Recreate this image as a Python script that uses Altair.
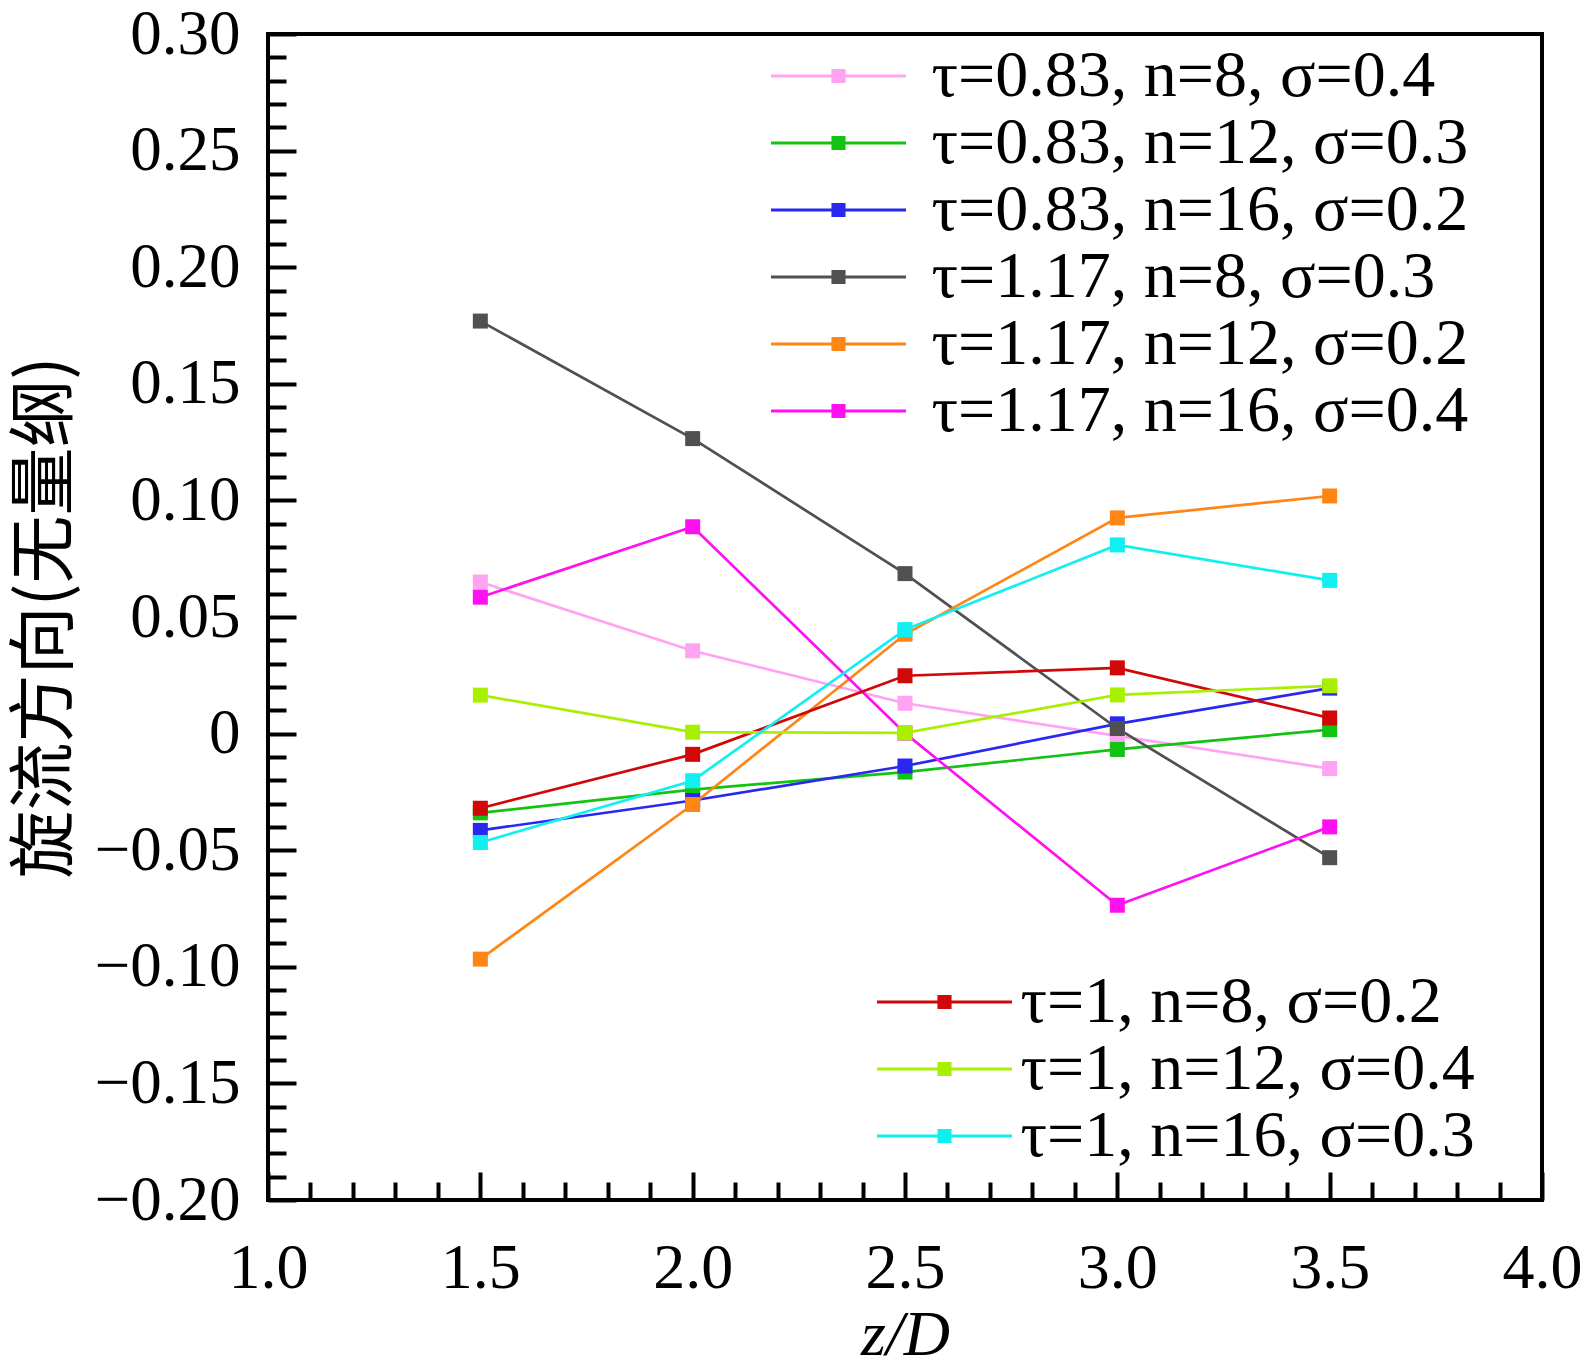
import altair as alt
import pandas as pd

# ---------------- data ----------------
z = [1.5, 2.0, 2.5, 3.0, 3.5]

labels_a = [
    "τ=0.83, n=8, σ=0.4",
    "τ=0.83, n=12, σ=0.3",
    "τ=0.83, n=16, σ=0.2",
    "τ=1.17, n=8, σ=0.3",
    "τ=1.17, n=12, σ=0.2",
    "τ=1.17, n=16, σ=0.4",
]
values_a = [
    [0.065, 0.0355, 0.013, -0.001, -0.015],
    [-0.034, -0.024, -0.0165, -0.0068, 0.0017],
    [-0.0415, -0.0287, -0.0139, 0.0042, 0.0195],
    [0.1769, 0.1265, 0.0686, 0.0022, -0.0532],
    [-0.0967, -0.0304, 0.0426, 0.0925, 0.1019],
    [0.0585, 0.0887, 0.0002, -0.0736, -0.040],
]
colors_a = ["#FFA3F3", "#12C312", "#2828F0", "#505050", "#FF8514", "#FF10F0"]

labels_b = [
    "τ=1, n=8, σ=0.2",
    "τ=1, n=12, σ=0.4",
    "τ=1, n=16, σ=0.3",
]
values_b = [
    [-0.032, -0.0089, 0.0248, 0.0282, 0.0067],
    [0.0165, 0.0006, 0.0003, 0.0166, 0.0205],
    [-0.0467, -0.0202, 0.0446, 0.0809, 0.0657],
]
colors_b = ["#D00808", "#A8F000", "#10F0F0"]

x_major = [1.0, 1.5, 2.0, 2.5, 3.0, 3.5, 4.0]
x_minor = [round(1.0 + i * 0.1, 1) for i in range(31) if i % 5 != 0]
y_major = [-0.20, -0.15, -0.10, -0.05, 0.0, 0.05, 0.10, 0.15, 0.20, 0.25, 0.30]
y_minor = [round(-0.20 + i * 0.01, 2) for i in range(51) if i % 5 != 0]


def frame(labels, values):
    rows = []
    for lab, vals in zip(labels, values):
        for zi, v in zip(z, vals):
            rows.append({"z": zi, "v": v, "series": lab})
    return pd.DataFrame(rows)


df_a = frame(labels_a, values_a)
df_b = frame(labels_b, values_b)

# ---------------- layout ----------------
W, H = 1274, 1166
SERIF = "Liberation Serif"
SYMBOL = "M-4.5,0H4.5M-0.37,-0.37H0.37V0.37H-0.37Z"

x_scale = alt.Scale(domain=[1.0, 4.0], nice=False, zero=False)
y_scale = alt.Scale(domain=[-0.20, 0.30], nice=False, zero=False)

x_major_axis = alt.Axis(
    orient="bottom", values=x_major, format=".1f", tickSize=28, offset=-28,
    tickWidth=4, tickColor="black", domain=False, grid=False,
    labelFont=SERIF, labelFontSize=64, labelColor="black", labelPadding=36,
    labelFlush=False, labelOverlap=False,
    title="z/D", titleFont=SERIF, titleFontSize=64, titleFontStyle="italic",
    titleFontWeight="normal", titleColor="black", titleBaseline="alphabetic",
    titleY=182,
)
y_major_axis = alt.Axis(
    orient="left", values=y_major, tickSize=28, offset=-28,
    tickWidth=4, tickColor="black", domain=False, grid=False,
    labelExpr="datum.value == 0 ? '0' : format(datum.value, '.2f')",
    labelFont=SERIF, labelFontSize=63, labelColor="black", labelPadding=28,
    labelFlush=False, labelOverlap=False,
    title="旋流方向(无量纲)", titleFont="Noto Sans CJK SC", titleFontSize=68,
    titleFontWeight="normal", titleColor="black", titleBaseline="alphabetic",
    titleX=-230,
)
x_minor_axis = alt.Axis(
    orient="bottom", values=x_minor, tickSize=18, offset=-18, tickWidth=4,
    tickColor="black", domain=False, grid=False, labels=False, title="",
)
y_minor_axis = alt.Axis(
    orient="left", values=y_minor, tickSize=18, offset=-18, tickWidth=4,
    tickColor="black", domain=False, grid=False, labels=False, title="",
)


def legend(x, y, label_offset):
    return alt.Legend(
        orient="none", legendX=x, legendY=y, title=None, padding=0,
        symbolType=SYMBOL, symbolSize=900, symbolStrokeWidth=3,
        symbolOffset=51, labelOffset=label_offset,
        labelFont=SERIF, labelFontSize=66, labelColor="black", labelLimit=0,
        rowPadding=1, symbolOpacity=1,
    )


def group(df, labels, colors, xaxis, yaxis, leg):
    sc = alt.Scale(domain=labels, range=colors)
    enc_x = alt.X("z:Q", scale=x_scale, axis=xaxis)
    enc_y = alt.Y("v:Q", scale=y_scale, axis=yaxis)
    lines = alt.Chart(df).mark_line(strokeWidth=2.7).encode(
        x=enc_x, y=enc_y,
        stroke=alt.Stroke("series:N", scale=sc, legend=leg),
    )
    pts = alt.Chart(df).mark_point(shape="square", filled=True, size=225, opacity=1).encode(
        x=enc_x, y=enc_y,
        fill=alt.Fill("series:N", scale=sc, legend=leg),
    )
    return alt.layer(lines, pts)


group_a = group(df_a, labels_a, colors_a, x_major_axis, y_major_axis,
                legend(486.5, 9, 60))
group_b = group(df_b, labels_b, colors_b, x_minor_axis, y_minor_axis,
                legend(592.5, 935, 43))

chart = (
    alt.layer(group_a, group_b)
    .resolve_scale(fill="independent", stroke="independent")
    .resolve_axis(x="independent", y="independent")
    .resolve_legend(fill="independent", stroke="independent")
    .properties(
        width=W, height=H,
        autosize=alt.AutoSizeParams(type="none"),
        padding={"left": 260, "top": 26, "right": 42, "bottom": 168},
        background="white",
    )
    .configure_view(stroke="black", strokeWidth=4)
)

chart.save("out.html", embed_options={"renderer": "svg", "actions": False})
